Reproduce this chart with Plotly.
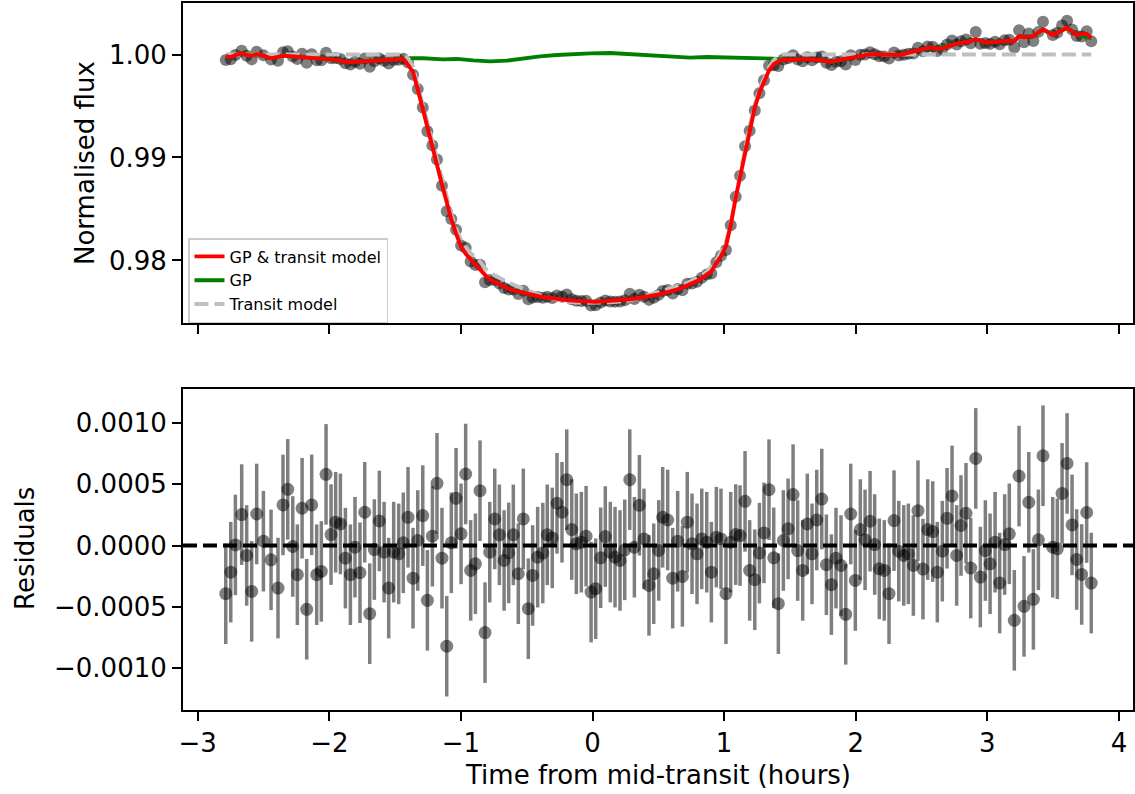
import numpy as np
import plotly.graph_objects as go
from plotly.subplots import make_subplots

# ---------------- data ----------------
time_h = [-2.787,-2.749,-2.714,-2.666,-2.628,-2.590,-2.552,-2.501,-2.443,-2.390,
          -2.352,-2.316,-2.278,-2.243,-2.207,-2.172,-2.134,-2.096,-2.061,-2.025,
          -1.987,-1.952,-1.916,-1.878,-1.840,-1.805,-1.767,-1.731,-1.693,-1.658,
          -1.620,-1.584,-1.549,-1.511,-1.473,-1.438,-1.402,-1.364,-1.328,-1.290,
          -1.255,-1.217,-1.182,-1.144,-1.108,-1.073,-1.037,-0.999,-0.964,-0.926,
          -0.890,-0.855,-0.817,-0.781,-0.743,-0.708,-0.672,-0.637,-0.602,-0.564,
          -0.526,-0.488,-0.455,-0.417,-0.378,-0.344,-0.306,-0.270,-0.232,-0.196,
          -0.158,-0.123,-0.085,-0.049,-0.011,0.024,0.062,0.097,0.135,0.171,
          0.209,0.245,0.283,0.318,0.356,0.391,0.429,0.465,0.503,0.533,
          0.571,0.609,0.647,0.683,0.720,0.756,0.794,0.830,0.868,0.903,
          0.941,0.976,1.014,1.050,1.088,1.121,1.159,1.194,1.233,1.268,
          1.303,1.341,1.377,1.412,1.450,1.486,1.524,1.559,1.597,1.632,
          1.668,1.704,1.742,1.777,1.815,1.850,1.888,1.924,1.962,1.997,
          2.035,2.071,2.109,2.144,2.179,2.217,2.253,2.291,2.327,2.365,
          2.400,2.438,2.473,2.511,2.547,2.585,2.620,2.658,2.694,2.732,
          2.767,2.800,2.838,2.874,2.912,2.947,2.985,3.021,3.059,3.094,
          3.132,3.167,3.205,3.241,3.279,3.315,3.350,3.388,3.423,3.497,
          3.532,3.568,3.606,3.644,3.679,3.717,3.755,3.790]

residuals = [-0.000393,-0.000217,0.000005,0.000252,-0.000081,-0.000374,0.000257,0.000035,-0.000117,-0.000347,
             0.000331,0.000458,-0.000008,-0.000238,0.000304,-0.000520,0.000331,-0.000238,-0.000211,0.000580,
             0.000089,0.000190,0.000176,-0.000103,-0.000238,-0.000014,-0.000222,0.000271,-0.000556,-0.000033,
             0.000200,-0.000054,-0.000347,-0.000054,-0.000068,0.000022,0.000230,-0.000266,0.000041,0.000244,
             -0.000447,0.000076,0.000507,-0.000103,-0.000821,0.000022,0.000385,0.000095,0.000583,-0.000203,
             -0.000149,0.000447,-0.000710,-0.000054,0.000217,0.000087,-0.000122,-0.000060,0.000087,-0.000230,
             0.000217,-0.000515,-0.000244,-0.000095,-0.000062,0.000087,0.000062,0.000344,0.000271,0.000537,
             0.000130,0.000014,0.000027,0.000076,-0.000380,-0.000352,-0.000100,0.000073,-0.000054,-0.000095,
             -0.000122,-0.000035,0.000537,-0.000014,0.000328,0.000054,-0.000325,-0.000230,-0.000040,0.000230,
             0.000208,-0.000266,0.000035,-0.000252,0.000190,0.000014,-0.000068,0.000054,0.000027,-0.000217,
             0.000068,0.000054,-0.000393,0.000027,0.000089,0.000081,0.000360,-0.000203,-0.000279,-0.000062,
             0.000103,0.000455,-0.000100,-0.000474,0.000041,0.000136,0.000415,-0.000041,-0.000203,0.000176,
             -0.000068,0.000208,0.000379,-0.000157,-0.000319,-0.000103,-0.000163,-0.000561,0.000257,-0.000285,
             0.000130,0.000046,0.000198,0.000008,-0.000190,-0.000203,-0.000393,0.000203,-0.000046,-0.000081,
             -0.000068,-0.000163,0.000284,-0.000192,0.000130,0.000114,-0.000217,-0.000046,0.000222,0.000404,
             -0.000081,0.000163,0.000263,-0.000184,0.000710,-0.000257,-0.000041,-0.000149,0.000027,-0.000306,
             0.000008,0.000095,-0.000610,0.000566,-0.000496,0.000352,-0.000439,0.000046,0.000732,-0.000014,
             -0.000027,0.000425,0.000669,0.000168,-0.000114,-0.000236,0.000269,-0.000306]

residual_err = 0.00041

# GP & transit model (red line) at each observation time
gp_transit_fit = [0.99985,0.99975,0.99995,1.00011,0.99995,0.99990,1.00002,0.99989,0.99963,0.99975,
                  0.99989,0.99985,0.99982,0.99979,0.99976,0.99972,0.99970,0.99968,0.99965,0.99960,
                  0.99955,0.99948,0.99938,0.99926,0.99926,0.99930,0.99932,0.99934,0.99936,0.99938,
                  0.99942,0.99945,0.99948,0.99952,0.99955,0.99957,0.99900,0.99830,0.99660,0.99460,
                  0.99300,0.99110,0.98930,0.98735,0.98560,0.98400,0.98260,0.98135,0.98065,0.98010,
                  0.97970,0.97915,0.97860,0.97815,0.97790,0.97768,0.97745,0.97725,0.97710,0.97697,
                  0.97685,0.97675,0.97666,0.97655,0.97645,0.97638,0.97630,0.97625,0.97620,0.97615,
                  0.97610,0.97607,0.97604,0.97602,0.97600,0.97600,0.97601,0.97603,0.97606,0.97610,
                  0.97614,0.97618,0.97623,0.97628,0.97635,0.97642,0.97650,0.97660,0.97670,0.97680,
                  0.97692,0.97705,0.97720,0.97737,0.97755,0.97775,0.97800,0.97828,0.97860,0.97895,
                  0.97975,0.98040,0.98140,0.98340,0.98610,0.98814,0.99073,0.99280,0.99485,0.99630,
                  0.99740,0.99845,0.99905,0.99935,0.99947,0.99950,0.99952,0.99955,0.99955,0.99955,
                  0.99952,0.99950,0.99942,0.99935,0.99930,0.99940,0.99950,0.99958,0.99966,0.99975,
                  0.99985,0.99995,1.00002,1.00002,1.00002,1.00002,1.00000,0.99998,0.99995,1.00005,
                  1.00015,1.00027,1.00036,1.00050,1.00064,1.00065,1.00056,1.00060,1.00075,1.00095,
                  1.00105,1.00112,1.00120,1.00128,1.00148,1.00130,1.00115,1.00118,1.00122,1.00130,
                  1.00138,1.00133,1.00130,1.00178,1.00168,1.00168,1.00175,1.00215,1.00245,1.00190,
                  1.00215,1.00240,1.00260,1.00225,1.00190,1.00198,1.00200,1.00160]

# GP (green line)
gp_time = [-2.787,-2.666,-2.552,-2.443,-2.352,-2.207,-2.025,-1.878,-1.731,-1.584,-1.438,
           -1.387,-1.286,-1.134,-1.032,-0.906,-0.779,-0.652,-0.526,-0.399,-0.272,-0.146,
           -0.019,0.133,0.234,0.336,0.437,0.488,0.614,0.741,0.868,0.994,1.121,1.248,1.374,
           1.450,1.524,1.632,1.742,1.815,1.924,2.035,2.109,2.217,2.327,2.438,2.547,2.620,
           2.732,2.838,2.912,2.985,3.094,3.205,3.241,3.350,3.423,3.497,3.606,3.679,3.790]
gp_flux = [0.99985,1.00011,1.00002,0.99963,0.99989,0.99976,0.99960,0.99926,0.99934,0.99945,0.99957,
           0.99963,0.99963,0.99953,0.99957,0.99943,0.99933,0.99940,0.99963,0.99982,0.99995,1.00005,
           1.00011,1.00015,1.00008,0.99998,0.99992,0.99982,0.99973,0.99970,0.99976,0.99973,0.99973,0.99970,0.99960,
           0.99947,0.99952,0.99955,0.99942,0.99930,0.99958,0.99985,1.00002,1.00002,0.99995,1.00027,1.00064,1.00056,
           1.00095,1.00120,1.00148,1.00115,1.00130,1.00130,1.00178,1.00175,1.00245,1.00190,1.00260,1.00190,1.00160]

# Transit model (grey dashed line)
transit_time = [-2.787,-1.438,-1.402,-1.364,-1.328,-1.290,-1.255,-1.217,-1.182,-1.144,-1.108,
                -1.073,-1.037,-0.999,-0.964,-0.926,-0.890,-0.855,-0.817,-0.781,-0.743,-0.708,
                -0.672,-0.637,-0.602,-0.526,-0.455,-0.378,-0.306,-0.232,-0.158,-0.085,-0.011,
                0.062,0.135,0.209,0.283,0.356,0.429,0.503,0.571,0.647,0.720,0.794,0.868,0.941,
                1.014,1.050,1.088,1.121,1.159,1.194,1.233,1.268,1.303,1.341,1.377,1.412,1.450,3.790]
transit_flux = [1.0,1.0,0.99965,0.9988,0.9970,0.9951,0.9934,0.9915,0.9897,0.9878,0.9861,
                0.9845,0.9831,0.9820,0.9813,0.9807,0.9803,0.9799,0.97925,0.9788,0.97855,0.9783,
                0.97805,0.97785,0.97765,0.97725,0.9769,0.97655,0.9763,0.9761,0.97595,0.97588,0.97588,
                0.9759,0.97593,0.976,0.97612,0.97635,0.97665,0.97693,0.97718,0.97748,0.97783,0.9783,0.9789,0.9800,
                0.9818,0.9836,0.9862,0.9884,0.9910,0.9931,0.9951,0.9966,0.9977,0.9988,0.99945,0.9998,1.0,1.0]

x_ticks = [-3, -2, -1, 0, 1, 2, 3, 4]
x_tick_text = ["\u22123", "\u22122", "\u22121", "0", "1", "2", "3", "4"]
top_y_ticks = [0.98, 0.99, 1.00]
top_y_text = ["0.98", "0.99", "1.00"]
bot_y_ticks = [-0.001, -0.0005, 0.0, 0.0005, 0.001]
bot_y_text = ["\u22120.0010", "\u22120.0005", "0.0000", "0.0005", "0.0010"]

# observed flux = model + residual
flux_obs = np.array(gp_transit_fit) + np.array(residuals)

# ---------------- figure ----------------
W, H = 1135, 794
ML, MR, MT, MB = 183, 2, 3, 84
PW, PH = W - ML - MR, H - MT - MB

def ypaper(py):
    return (H - MB - py) / PH

def xpaper(px):
    return (px - ML) / PW

FONT = "DejaVu Sans"
fig = make_subplots(rows=2, cols=1)

fig.add_trace(go.Scatter(x=time_h, y=flux_obs, mode="markers",
                         marker=dict(size=12, color="rgba(0,0,0,0.5)", line=dict(width=0)),
                         showlegend=False, hoverinfo="skip"), row=1, col=1)
fig.add_trace(go.Scatter(x=gp_time, y=gp_flux, mode="lines", name="GP",
                         line=dict(color="#008000", width=3.9), legendrank=2), row=1, col=1)
fig.add_trace(go.Scatter(x=transit_time, y=transit_flux, mode="lines", name="Transit model",
                         line=dict(color="#bfbfbf", width=3.9, dash="14px,6px"), legendrank=3), row=1, col=1)
fig.add_trace(go.Scatter(x=time_h, y=gp_transit_fit, mode="lines", name="GP & transit model",
                         line=dict(color="#ff0000", width=3.9), legendrank=1), row=1, col=1)

fig.add_trace(go.Scatter(x=time_h, y=residuals, mode="markers",
                         marker=dict(size=13, color="rgba(0,0,0,0.5)", line=dict(width=0)),
                         error_y=dict(type="constant", value=residual_err, color="rgba(0,0,0,0.5)",
                                      thickness=3.5, width=0),
                         showlegend=False, hoverinfo="skip"), row=2, col=1)

fig.add_shape(type="line", xref="x2 domain", yref="y2", x0=0, x1=1, y0=0, y1=0,
              line=dict(color="black", width=3.9, dash="14px,6px"))

axis_common = dict(showline=True, linecolor="black", linewidth=2, mirror=True,
                   ticks="outside", ticklen=9, tickwidth=2, tickcolor="black",
                   showgrid=False, zeroline=False, automargin=False,
                   tickfont=dict(family=FONT, size=26, color="black"))

top_dom = [ypaper(323), 1.0]
bot_dom = [0.0, ypaper(389)]

fig.update_xaxes(range=[-3.112, 4.107], tickvals=x_ticks, ticktext=x_tick_text, **axis_common)
fig.update_xaxes(showticklabels=False, row=1, col=1)
fig.update_yaxes(**axis_common)
fig.update_layout(
    yaxis=dict(domain=top_dom, range=[0.97393, 1.0050], tickvals=top_y_ticks, ticktext=top_y_text),
    yaxis2=dict(domain=bot_dom, range=[-0.001341, 0.001276], tickvals=bot_y_ticks, ticktext=bot_y_text),
    xaxis=dict(anchor="y"),
    xaxis2=dict(anchor="y2"),
)

fig.update_layout(
    width=W, height=H,
    margin=dict(l=ML, r=MR, t=MT, b=MB, autoexpand=False),
    paper_bgcolor="white", plot_bgcolor="white",
    font=dict(family=FONT, color="black"),
    legend=dict(x=xpaper(188), y=ypaper(238), xanchor="left", yanchor="top",
                bgcolor="rgba(255,255,255,0.8)", bordercolor="#cccccc", borderwidth=1.5,
                font=dict(family=FONT, size=16, color="black"),
                itemwidth=30, tracegroupgap=0),
    annotations=[
        dict(text="Normalised flux", xref="paper", yref="paper", x=xpaper(85), y=ypaper(163),
             xanchor="center", yanchor="middle", textangle=-90, showarrow=False,
             font=dict(family=FONT, size=26, color="black")),
        dict(text="Residuals", xref="paper", yref="paper", x=xpaper(25), y=ypaper(549),
             xanchor="center", yanchor="middle", textangle=-90, showarrow=False,
             font=dict(family=FONT, size=26, color="black")),
        dict(text="Time from mid-transit (hours)", xref="paper", yref="paper", x=xpaper(658),
             y=ypaper(775), xanchor="center", yanchor="middle", showarrow=False,
             font=dict(family=FONT, size=26, color="black")),
    ],
)

fig.write_html("out.html", config={"displayModeBar": False},
               post_script="document.body.style.margin='0px';document.body.style.overflow='hidden';")
